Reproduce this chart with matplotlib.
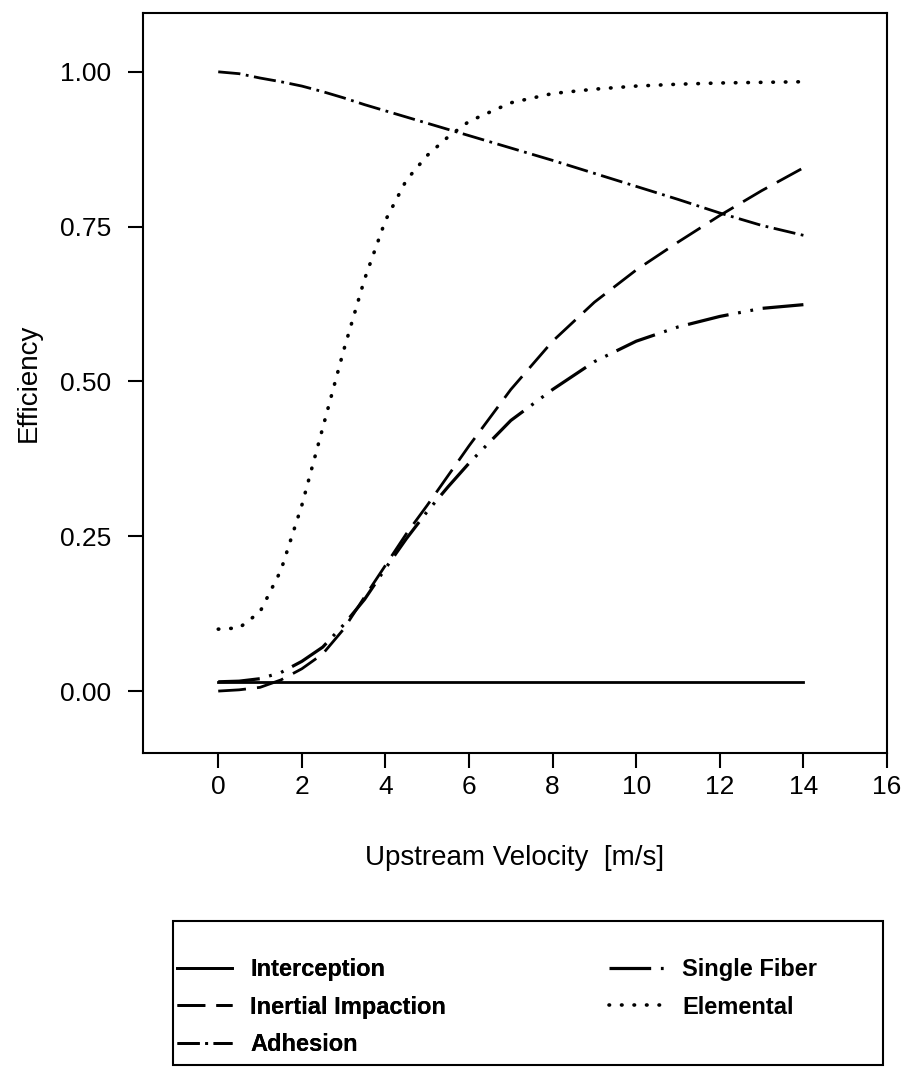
#!/usr/bin/env python
# -*- coding: utf-8 -*-

# ~~~~~~~~~~~~~~~~~~~~~~~~~~~~~~~~~~~~~~~~~~~~~~~~~~~~~~~~~~~~~~~~~~~~~~~~~~~~~~
# Filter efficiency vs upstream velocity
# ~~~~~~~~~~~~~~~~~~~~~~~~~~~~~~~~~~~~~~~~~~~~~~~~~~~~~~~~~~~~~~~~~~~~~~~~~~~~~~

#!------------------------------------------------------------------------------
#!                                   MODULES
#!------------------------------------------------------------------------------
import matplotlib
matplotlib.use("Agg")
from matplotlib import pyplot as plt
from matplotlib.patches import Rectangle

#!------------------------------------------------------------------------------
#!                                    DATA
#!------------------------------------------------------------------------------
velocity = [0, 0.5, 1, 1.5, 2, 2.5, 3, 3.5, 4, 4.5, 5, 5.5, 6, 7, 8, 9, 10,
            11, 12, 13, 14]

interception = [0.015] * len(velocity)
inertial = [0.0, 0.002, 0.006, 0.018, 0.036, 0.060, 0.100, 0.152, 0.203,
            0.254, 0.300, 0.348, 0.396, 0.487, 0.565, 0.628, 0.680, 0.725,
            0.768, 0.808, 0.845]
adhesion = [1.0, 0.997, 0.990, 0.984, 0.977, 0.968, 0.958, 0.947, 0.937,
            0.927, 0.917, 0.907, 0.897, 0.877, 0.857, 0.836, 0.815, 0.794,
            0.772, 0.752, 0.736]
single_fiber = [0.015, 0.016, 0.020, 0.030, 0.048, 0.071, 0.107, 0.148,
                0.198, 0.246, 0.290, 0.330, 0.368, 0.437, 0.487, 0.532,
                0.565, 0.588, 0.605, 0.618, 0.624]
elemental = [0.100, 0.102, 0.128, 0.195, 0.300, 0.425, 0.550, 0.665, 0.760,
             0.825, 0.865, 0.895, 0.920, 0.950, 0.965, 0.972, 0.977, 0.980,
             0.982, 0.983, 0.984]

x_ticks = [0, 2, 4, 6, 8, 10, 12, 14, 16]
y_ticks = [0.0, 0.25, 0.5, 0.75, 1.0]


#!------------------------------------------------------------------------------
#!                             FUNCTION DEFINITION
#!------------------------------------------------------------------------------
def plot_efficiency():
    plt.rcParams['font.family'] = ['Liberation Sans', 'DejaVu Sans']
    plt.rcParams['lines.scale_dashes'] = False

    W, H = 907, 1072
    fig = plt.figure(figsize=(W / 100, H / 100), dpi=100)
    ax = fig.add_axes([143 / W, 1 - 753 / H, 744 / W, 740 / H])

    lw = 2.0
    l1, = ax.plot(velocity, interception, color="black", lw=lw,
                  label="Interception")
    l2, = ax.plot(velocity, inertial, color="black", lw=lw,
                  dashes=(20, 8), label="Inertial Impaction")
    l3, = ax.plot(velocity, adhesion, color="black", lw=lw,
                  dashes=(16, 4, 2, 4), label="Adhesion")
    l4, = ax.plot(velocity, single_fiber, color="black", lw=lw + 0.3,
                  dashes=(30, 7, 2, 7, 2, 7), label="Single Fiber")
    l5, = ax.plot(velocity, elemental, color="black", lw=2.6,
                  dashes=(0.4, 8.6), dash_capstyle="round",
                  label="Elemental")

    ax.set_xlim(-1.8, 16)
    ax.set_ylim(-0.1, 1.095)
    ax.set_xticks(x_ticks)
    ax.set_yticks(y_ticks)
    ax.set_yticklabels(["%.2f" % v for v in y_ticks])
    ax.tick_params(direction="out", length=11, width=1.5, labelsize=19,
                   pad=5)
    ax.tick_params(axis="y", pad=12)
    for s in ax.spines.values():
        s.set_linewidth(1.5)

    ax.set_xlabel("Upstream Velocity  [m/s]", fontsize=20, labelpad=33)
    ax.set_ylabel("Efficiency", fontsize=20, labelpad=13)

    # legend box
    fig.add_artist(Rectangle((173 / W, 1 - 1065 / H), 710 / W, 144 / H,
                             transform=fig.transFigure, fill=False,
                             edgecolor="black", lw=1.5))
    kw = dict(frameon=False, loc="upper left", borderpad=0,
              borderaxespad=0, handlelength=2.35, handletextpad=0.75,
              labelspacing=0.62, prop={"size": 17, "weight": "bold"})
    leg1 = fig.legend([l1, l2, l3], [l.get_label() for l in (l1, l2, l3)],
                      bbox_to_anchor=(177 / W, 1 - 958 / H), **kw)
    fig.add_artist(leg1)
    fig.legend([l4, l5], [l.get_label() for l in (l4, l5)],
               bbox_to_anchor=(609 / W, 1 - 958 / H), **kw)

    fig.savefig("out.png", dpi=100)


#!------------------------------------------------------------------------------
#!                                MAIN FUNCTION
#!------------------------------------------------------------------------------
def main():
    plot_efficiency()


if __name__ == '__main__':
    main()
